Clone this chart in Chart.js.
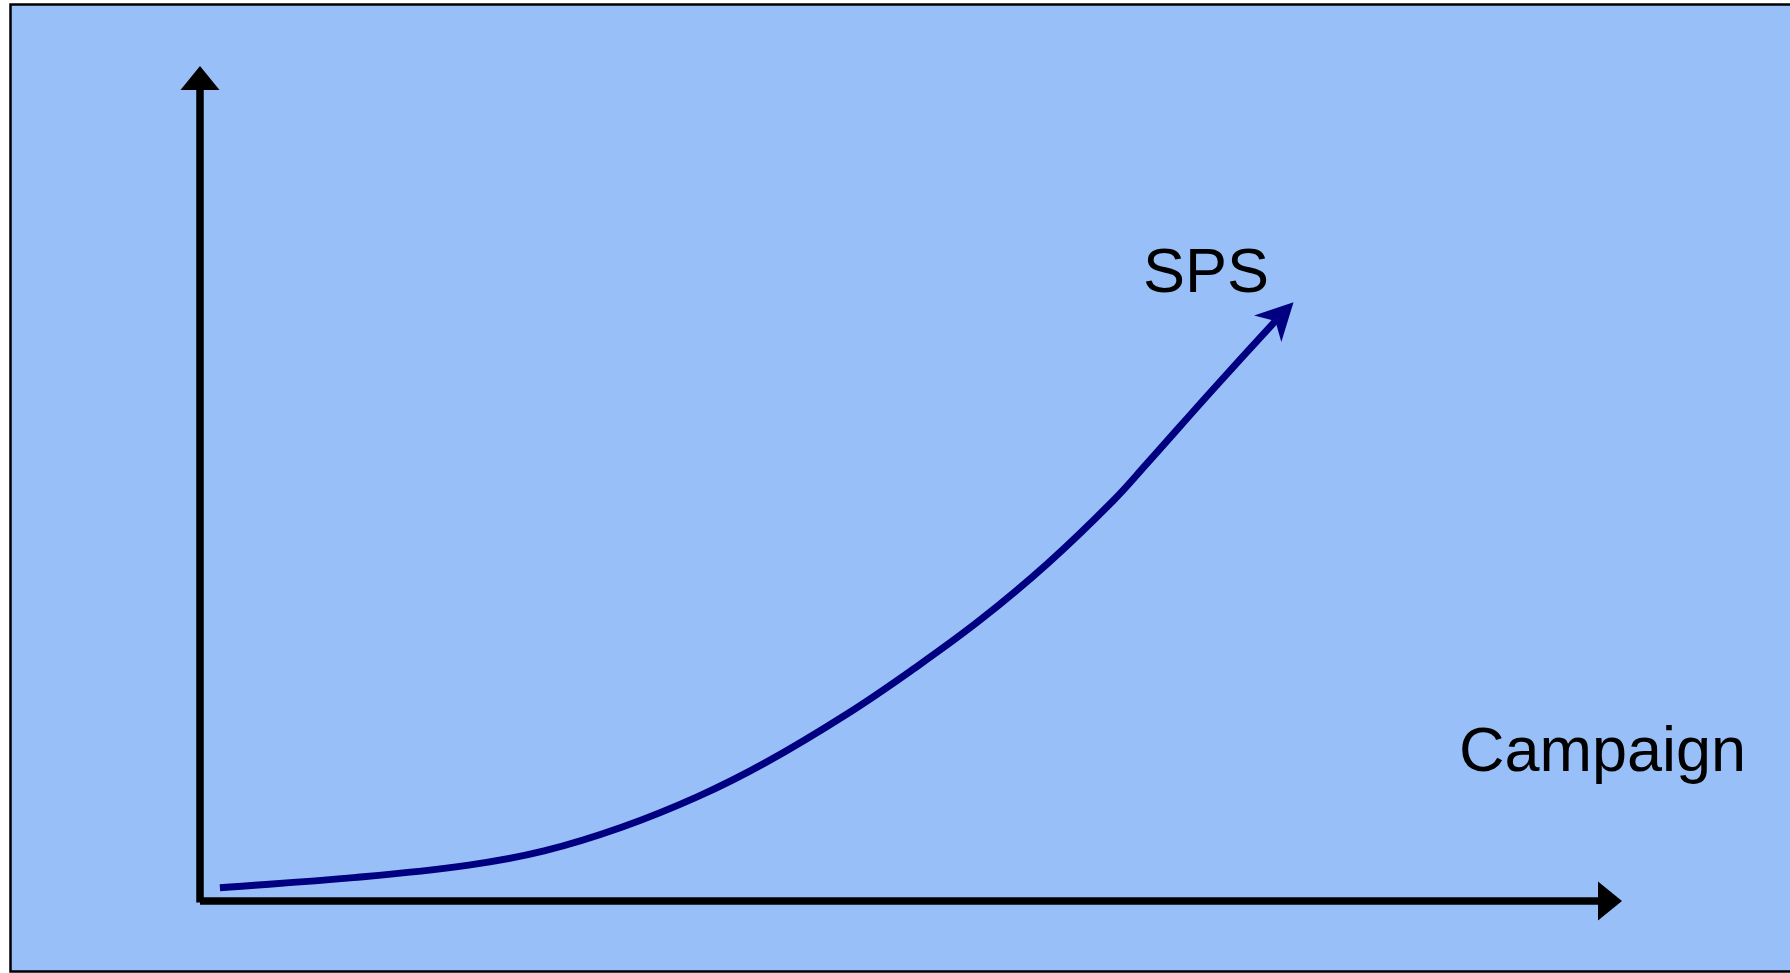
<!DOCTYPE html>
<html>
<head>
<meta charset="utf-8">
<script src="https://cdn.jsdelivr.net/npm/chart.js@4"></script>
<style>
  html, body { margin: 0; padding: 0; background: #ffffff; }
  canvas { display: block; }
</style>
</head>
<body>
<canvas id="c" width="1790" height="973"></canvas>
<script>
// ---- data ----
const campaignX = [1.4, 10.8, 18.9, 24.2, 29.6, 35.0, 39.8, 45.5, 50.1, 54.9, 59.6, 64.2, 66.6, 71.2, 75.7, 76.9];
const spsY      = [1.6, 2.8, 4.3, 6.0, 8.8, 12.5, 16.6, 22.4, 27.7, 33.7, 40.4, 47.9, 52.4, 61.2, 69.6, 71.7];
const seriesLabel = 'SPS';
const xAxisLabel = 'Campaign';
const axisMin = 0;
const axisMax = 100;

// ---- styles ----
const BG = '#98bff7';
const CURVE = '#000080';
const FONT = '"Liberation Sans", Arial, sans-serif';

const points = campaignX.map((x, i) => ({ x: x, y: spsY[i] }));
const lastIdx = points.length - 1;

const decorPlugin = {
  id: 'decor',
  beforeDraw(chart) {
    const ctx = chart.ctx;
    ctx.save();
    ctx.fillStyle = '#ffffff';
    ctx.fillRect(0, 0, chart.width, chart.height);
    ctx.fillStyle = BG;
    ctx.fillRect(10, 4, chart.width, 967);
    ctx.strokeStyle = '#000000';
    ctx.lineWidth = 2.5;
    ctx.beginPath();
    ctx.moveTo(chart.width + 5, 4.5);
    ctx.lineTo(10.5, 4.5);
    ctx.lineTo(10.5, 971.5);
    ctx.lineTo(chart.width + 5, 971.5);
    ctx.stroke();
    ctx.restore();
  },
  beforeDatasetsDraw(chart) {
    const ctx = chart.ctx;
    const xs = chart.scales.x, ys = chart.scales.y;
    const x0 = xs.getPixelForValue(axisMin), x1 = xs.getPixelForValue(axisMax);
    const y0 = ys.getPixelForValue(axisMin), y1 = ys.getPixelForValue(axisMax);
    const headLen = 24, headHalf = 19.5;
    ctx.save();
    ctx.strokeStyle = '#000';
    ctx.fillStyle = '#000';
    ctx.lineWidth = 7.5;
    ctx.lineCap = 'butt';
    // y axis
    ctx.beginPath();
    ctx.moveTo(x0, y0 + 1.5);
    ctx.lineTo(x0, y1 + headLen - 1);
    ctx.stroke();
    // x axis
    ctx.beginPath();
    ctx.moveTo(x0, y0);
    ctx.lineTo(x1 - headLen + 1, y0);
    ctx.stroke();
    // arrow heads
    ctx.beginPath();
    ctx.moveTo(x0, y1);
    ctx.lineTo(x0 - headHalf, y1 + headLen);
    ctx.lineTo(x0 + headHalf, y1 + headLen);
    ctx.closePath();
    ctx.fill();
    ctx.beginPath();
    ctx.moveTo(x1, y0);
    ctx.lineTo(x1 - headLen, y0 - headHalf);
    ctx.lineTo(x1 - headLen, y0 + headHalf);
    ctx.closePath();
    ctx.fill();
    ctx.restore();
  },
  afterDatasetsDraw(chart) {
    const ctx = chart.ctx;
    const meta = chart.getDatasetMeta(0);
    const tip = meta.data[lastIdx];
    const prev = meta.data[lastIdx - 1];
    const ang = Math.atan2(tip.y - prev.y, tip.x - prev.x);
    const L = 37, W = 19, N = 26;
    const cx = Math.cos(ang), sy = Math.sin(ang);
    const px = -sy, py = cx;
    ctx.save();
    ctx.fillStyle = CURVE;
    ctx.beginPath();
    ctx.moveTo(tip.x, tip.y);
    ctx.lineTo(tip.x - cx * L + px * W, tip.y - sy * L + py * W);
    ctx.lineTo(tip.x - cx * N, tip.y - sy * N);
    ctx.lineTo(tip.x - cx * L - px * W, tip.y - sy * L - py * W);
    ctx.closePath();
    ctx.fill();

    // labels
    ctx.fillStyle = '#000';
    ctx.textAlign = 'left';
    ctx.textBaseline = 'alphabetic';
    ctx.font = '63px ' + FONT;
    ctx.fillText(seriesLabel, 1143, 292);
    ctx.fillText(xAxisLabel, 1459, 771);
    ctx.restore();
  }
};

new Chart(document.getElementById('c'), {
  type: 'line',
  data: {
    datasets: [{
      label: seriesLabel,
      data: points,
      borderColor: CURVE,
      borderWidth: 7,
      pointRadius: 0,
      pointHoverRadius: 0,
      fill: false,
      tension: 0.4,
      clip: false,
      segment: {
        borderColor: c => (c.p1DataIndex === lastIdx ? 'rgba(0,0,0,0)' : CURVE)
      }
    }]
  },
  options: {
    responsive: false,
    animation: false,
    events: [],
    layout: { padding: { left: 200, right: 168, top: 66, bottom: 72 } },
    plugins: { legend: { display: false }, tooltip: { enabled: false }, title: { display: false } },
    scales: {
      x: { type: 'linear', min: axisMin, max: axisMax, display: false },
      y: { type: 'linear', min: axisMin, max: axisMax, display: false }
    }
  },
  plugins: [decorPlugin]
});
</script>
</body>
</html>
